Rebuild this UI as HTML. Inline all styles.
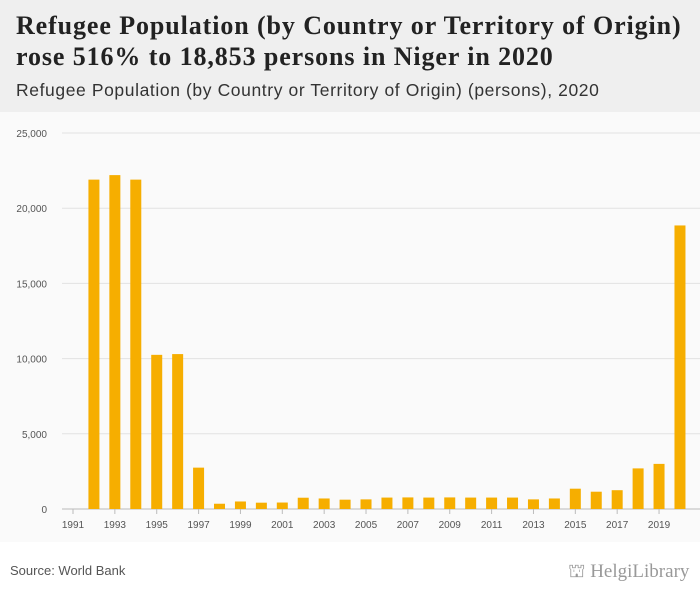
<!DOCTYPE html>
<html><head><meta charset="utf-8">
<style>
body{margin:0;width:700px;height:596px;overflow:hidden;background:#fff;font-family:"Liberation Sans",sans-serif;}
#hdr{position:absolute;left:0;top:0;width:700px;height:112px;background:#efefef;}
#title{position:absolute;left:16px;top:10px;font-family:"Liberation Serif",serif;font-weight:bold;font-size:26px;letter-spacing:0.9px;line-height:31px;color:#222;white-space:nowrap;}
#sub{position:absolute;left:16px;top:80px;font-size:17.5px;letter-spacing:0.6px;color:#333;white-space:nowrap;}
#src{position:absolute;left:10px;top:563px;font-size:13px;color:#555;}
#logo{position:absolute;left:568px;top:561px;font-family:"Liberation Serif",serif;font-size:19px;color:#999;white-space:nowrap;}
svg{position:absolute;left:0;top:112px;}
</style></head><body>
<div id="hdr">
<div id="title">Refugee Population (by Country or Territory of Origin)<br>rose 516% to 18,853 persons in Niger in 2020</div>
<div id="sub">Refugee Population (by Country or Territory of Origin) (persons), 2020</div>
</div>
<svg id="chart" width="700" height="430"></svg>
<div id="src">Source: World Bank</div>
<div id="logo">⛫ HelgiLibrary</div>
<script>
const years=[1991,1992,1993,1994,1995,1996,1997,1998,1999,2000,2001,2002,2003,2004,2005,2006,2007,2008,2009,2010,2011,2012,2013,2014,2015,2016,2017,2018,2019,2020];
const values=[0,21900,22200,21900,10250,10300,2750,350,500,420,430,750,700,620,640,760,770,760,770,760,760,760,640,700,1350,1150,1250,2700,3000,18853];
const yTicks=[0,5000,10000,15000,20000,25000];
const xTickYears=[1991,1993,1995,1997,1999,2001,2003,2005,2007,2009,2011,2013,2015,2017,2019];
const svg=document.getElementById('chart');const NS='http://www.w3.org/2000/svg';
const top0=112;
function y(v){return 509-top0-v*(376/25000);}
function x(yr){return 73+(yr-1991)*20.93;}
function mk(t,a){const e=document.createElementNS(NS,t);for(const k in a)e.setAttribute(k,a[k]);svg.appendChild(e);return e;}
mk('rect',{x:0,y:0,width:700,height:430,fill:'#fafafa'});
yTicks.forEach(v=>{
 const l=mk('line',{x1:62,x2:700,y1:y(v),y2:y(v),stroke:v?'#e2e2e2':'#bbb'});
 
 
 const t=mk('text',{x:47,y:y(v)+4,'text-anchor':'end','font-size':10,fill:'#555'});
 t.textContent=v.toLocaleString('en-US');
 
 
});
years.forEach((yr,i)=>{
 if(!values[i])return;
 const r=mk('rect',{x:x(yr)-5.5,y:y(values[i]),width:11,height:y(0)-y(values[i]),fill:'#f6ae00'});
 
 
});
xTickYears.forEach(yr=>{
 mk('line',{x1:x(yr),x2:x(yr),y1:y(0),y2:y(0)+5,stroke:'#bbb'});
 const t=mk('text',{x:x(yr),y:y(0)+19,'text-anchor':'middle','font-size':10,fill:'#555'});
 t.textContent=yr;
 
 
});
</script>
</body></html>
